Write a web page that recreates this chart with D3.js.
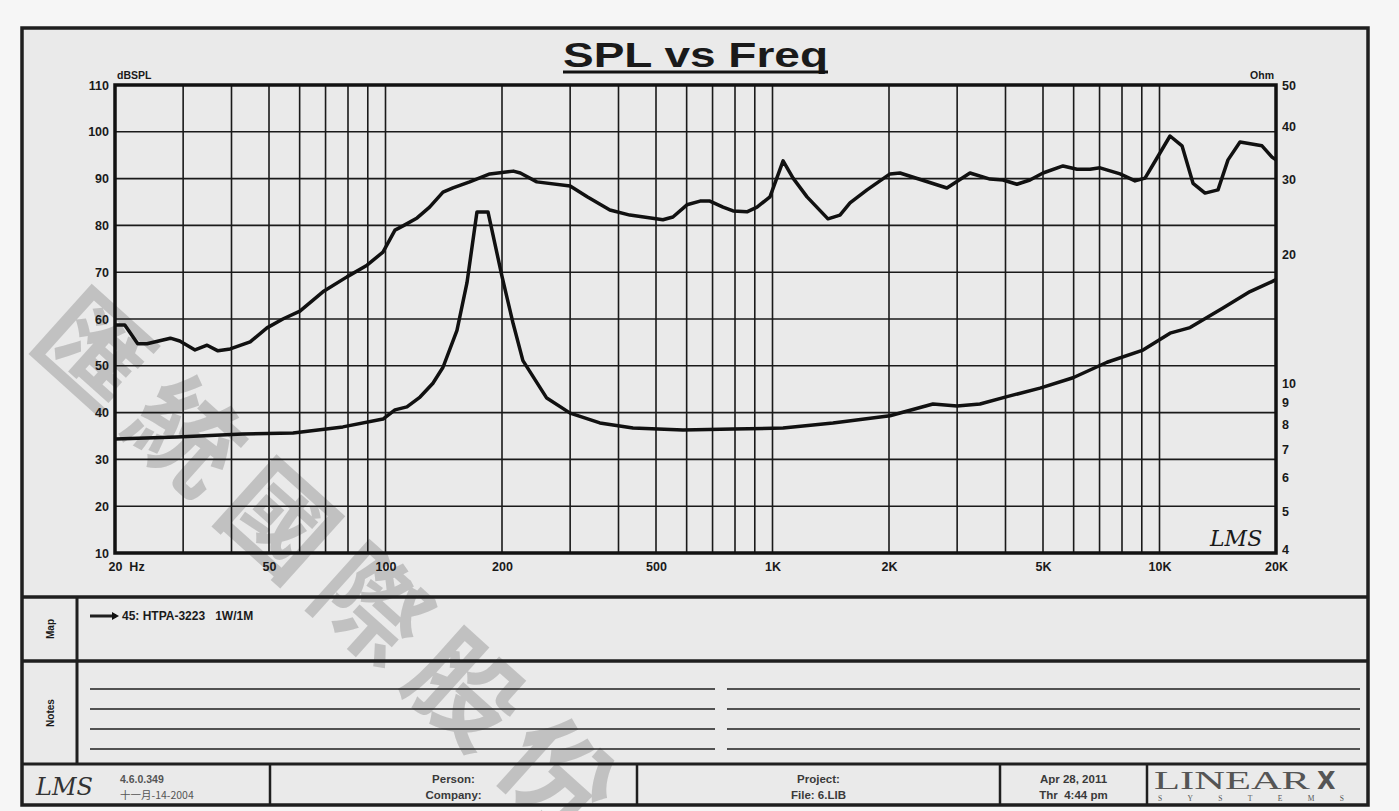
<!DOCTYPE html>
<html lang="en">
	<head>
		<meta charset="utf-8">
		<title>SPL vs Freq</title>
		<script src="https://d3js.org/d3.v7.min.js"></script>
		<style type="text/css">
			body { margin: 0; background: #f6f6f6; }
			text { font-family: "Liberation Sans", Arial, sans-serif; font-weight: bold; fill: #1a1a1a; }
		</style>
	</head>

	<body>
		<script type="text/javascript">
			// page size
			var w = 1399
			var h = 811

			// SPL curve (dB, left axis)
			var splFreq = [20, 21.2, 22.9, 24.2, 27.8, 29.4, 32.2, 34.6, 36.9, 39.7, 44.7, 49.4, 54.3, 60.1, 68.9, 79.5, 89.6, 98.5, 105.8, 111, 120.7, 130, 140.8, 149.4, 165, 186, 200, 214, 223, 246, 300, 332, 380, 428, 521, 553, 601, 650, 689, 745, 791, 859, 912, 985, 1065, 1130, 1228, 1391, 1494, 1586, 1755, 2012, 2135, 2823, 3238, 3648, 3941, 4282, 4627, 5001, 5632, 6122, 6614, 7020, 7908, 8646, 9174, 9852, 10646, 11434, 12208, 13112, 14164, 15032, 16144, 18402, 19530, 20000]
			var splDb = [58.7, 58.7, 54.7, 54.7, 55.9, 55.3, 53.4, 54.4, 53.2, 53.6, 55.1, 58.1, 60, 61.7, 65.8, 69, 71.5, 74.3, 79, 79.9, 81.6, 83.9, 87.1, 88, 89.3, 91, 91.3, 91.6, 91.2, 89.3, 88.4, 86.1, 83.3, 82.2, 81.2, 81.8, 84.4, 85.2, 85.2, 83.9, 83.1, 82.9, 83.9, 86.1, 93.8, 90.1, 86.1, 81.4, 82.2, 84.8, 87.6, 91, 91.2, 88, 91.2, 89.9, 89.7, 88.8, 89.7, 91.2, 92.7, 92, 92, 92.3, 91, 89.5, 90.1, 94.4, 99.1, 97, 89, 86.9, 87.6, 94, 97.8, 97, 94.6, 94]

			// impedance curve (Ohm, right axis)
			var zFreq = [20, 28.9, 42.8, 57.7, 77.6, 98.5, 105.8, 113.6, 122.8, 132.6, 140.8, 153, 162.4, 172.3, 184, 200, 213.7, 226.5, 261, 300, 358, 436, 587, 791, 1065, 1433, 2012, 2598, 2998, 3437, 4036, 4912, 5978, 7318, 9066, 10646, 11994, 14590, 17134, 19530, 20000]
			var zOhm = [7.40, 7.48, 7.60, 7.64, 7.90, 8.24, 8.66, 8.80, 9.28, 10.0, 10.9, 13.3, 17.2, 25.2, 25.2, 17.8, 13.8, 11.3, 9.23, 8.51, 8.07, 7.85, 7.77, 7.81, 7.85, 8.07, 8.39, 8.94, 8.84, 8.94, 9.30, 9.74, 10.3, 11.2, 11.96, 13.1, 13.5, 15.0, 16.4, 17.3, 17.5]

			// ticks
			var dbTicks = [10, 20, 30, 40, 50, 60, 70, 80, 90, 100, 110]
			var ohmTicks = [4, 5, 6, 7, 8, 9, 10, 20, 30, 40, 50]
			var freqTicks = [20, 50, 100, 200, 500, 1000, 2000, 5000, 10000, 20000]
			var freqLabels = ["20  Hz", "50", "100", "200", "500", "1K", "2K", "5K", "10K", "20K"]
			var freqGrid = [30, 40, 50, 60, 70, 80, 90, 100, 200, 300, 400, 500, 600, 700, 800, 900, 1000, 2000, 3000, 4000, 5000, 6000, 7000, 8000, 9000, 10000]
			var dbGrid = [20, 30, 40, 50, 60, 70, 80, 90, 100]

			var watermark = ["匯", "統", "國", "際", "股", "份"]
			var footerCells = [
				{ x: 22, x2: 270, l1: "", l2: "" },
				{ x: 270, x2: 637, l1: "Person:", l2: "Company:" },
				{ x: 637, x2: 1000, l1: "Project:", l2: "File: 6.LIB" },
				{ x: 1000, x2: 1147, l1: "Apr 28, 2011", l2: "Thr  4:44 pm" },
				{ x: 1147, x2: 1368, l1: "", l2: "" }
			]

			// plot box (window.top is reserved, so prefixed names)
			var pLeft = 115, pRight = 1276, pTop = 85, pBottom = 553

			var x = d3.scaleLog().domain([20, 20000]).range([pLeft, pRight])
			var yL = d3.scaleLinear().domain([10, 110]).range([pBottom, pTop])
			var yR = d3.scaleLog().domain([4, 50]).range([pBottom, pTop])

			var svg = d3.select("body")
						.append("svg")
						.attr("width", w)
						.attr("height", h)

			// paper
			svg.append("rect")
				.attr("x", 22).attr("y", 28)
				.attr("width", 1346).attr("height", 777)
				.style("fill", "#eaeaea")

			// watermark behind everything
			svg.selectAll(".wm")
				.data(watermark)
				.enter()
				.append("text")
				.attr("class", "wm")
				.attr("transform", function(d, i) { return "translate(" + (92 + i * 93) + "," + (352 + i * 85) + ") rotate(42)" })
				.attr("text-anchor", "middle")
				.attr("dy", "0.35em")
				.style("font-family", "'Noto Sans CJK TC', sans-serif")
				.style("font-weight", "bold")
				.style("font-size", "108px")
				.style("fill", "#b8b8b8")
				.style("opacity", 0.8)
				.text(function(d) { return d })

			// grid
			svg.selectAll(".vgrid")
				.data(freqGrid)
				.enter()
				.append("line")
				.attr("x1", function(d) { return x(d) })
				.attr("x2", function(d) { return x(d) })
				.attr("y1", pTop).attr("y2", pBottom)
				.style("stroke", "#1a1a1a")
				.style("stroke-width", 1.6)

			svg.selectAll(".hgrid")
				.data(dbGrid)
				.enter()
				.append("line")
				.attr("x1", pLeft).attr("x2", pRight)
				.attr("y1", function(d) { return yL(d) })
				.attr("y2", function(d) { return yL(d) })
				.style("stroke", "#1a1a1a")
				.style("stroke-width", 1.6)

			// plot frame
			svg.append("rect")
				.attr("x", pLeft).attr("y", pTop)
				.attr("width", pRight - pLeft).attr("height", pBottom - pTop)
				.style("fill", "none")
				.style("stroke", "#111")
				.style("stroke-width", 3.5)

			// axes
			var axL = svg.append("g")
				.attr("transform", "translate(" + (pLeft - 2) + ",0)")
				.call(d3.axisLeft(yL).tickValues(dbTicks).tickSize(0).tickPadding(4).tickFormat(d3.format("d")))
			var axR = svg.append("g")
				.attr("transform", "translate(" + (pRight + 2) + ",0)")
				.call(d3.axisRight(yR).tickValues(ohmTicks).tickSize(0).tickPadding(4).tickFormat(d3.format("d")))
			var axB = svg.append("g")
				.attr("transform", "translate(0," + (pBottom + 2) + ")")
				.call(d3.axisBottom(x).tickValues(freqTicks).tickSize(0).tickPadding(7)
					.tickFormat(function(d, i) { return freqLabels[i] }))

			;[axL, axR, axB].forEach(function(a) {
				a.select(".domain").remove()
				a.selectAll("text")
					.style("font-family", "'Liberation Sans', Arial, sans-serif")
					.style("font-weight", "bold")
					.style("font-size", "12.5px")
					.style("fill", "#1a1a1a")
			})
			axB.selectAll("text").filter(function(d) { return d === 20 })
				.attr("text-anchor", "start").attr("x", -7)
				.attr("xml:space", "preserve")
			axR.selectAll("text").filter(function(d) { return d === 4 }).attr("dy", "0.05em")

			// unit labels
			svg.append("text").attr("x", pLeft + 2).attr("y", pTop - 6)
				.style("font-size", "10.5px").text("dBSPL")
			svg.append("text").attr("x", pRight - 2).attr("y", pTop - 6)
				.attr("text-anchor", "end")
				.style("font-size", "10.5px").text("Ohm")

			// curves
			var splLine = d3.line()
				.x(function(d, i) { return x(splFreq[i]) })
				.y(function(d) { return yL(d) })
			var zLine = d3.line()
				.x(function(d, i) { return x(zFreq[i]) })
				.y(function(d) { return yR(d) })

			svg.append("path")
				.attr("d", splLine(splDb))
				.style("fill", "none").style("stroke", "#111")
				.style("stroke-width", 3.5).style("stroke-linejoin", "round")
			svg.append("path")
				.attr("d", zLine(zOhm))
				.style("fill", "none").style("stroke", "#111")
				.style("stroke-width", 3.5).style("stroke-linejoin", "round")

			// title
			svg.append("text")
				.attr("x", 563).attr("y", 67)
				.attr("textLength", 265).attr("lengthAdjust", "spacingAndGlyphs")
				.style("font-size", "35px")
				.text("SPL vs Freq")
			svg.append("line")
				.attr("x1", 563).attr("x2", 828)
				.attr("y1", 72).attr("y2", 72)
				.style("stroke", "#111").style("stroke-width", 3)

			// LMS mark in plot
			svg.append("text")
				.attr("x", 1210).attr("y", 546)
				.style("font-family", "'DejaVu Serif', serif")
				.style("font-style", "italic").style("font-weight", "normal")
				.style("font-size", "22px")
				.text("LMS")

			// lower panels
			function hline(y, x1, x2, sw) {
				svg.append("line").attr("x1", x1).attr("x2", x2).attr("y1", y).attr("y2", y)
					.style("stroke", "#1f1f1f").style("stroke-width", sw)
			}
			function vline(xx, y1, y2, sw) {
				svg.append("line").attr("x1", xx).attr("x2", xx).attr("y1", y1).attr("y2", y2)
					.style("stroke", "#1f1f1f").style("stroke-width", sw)
			}
			hline(597, 22, 1368, 3.5)
			hline(661, 22, 1368, 3.5)
			hline(764, 22, 1368, 3)
			vline(77, 597, 764, 3)
			;[689, 709, 729, 749].forEach(function(y) {
				hline(y, 90, 715, 1.6)
				hline(y, 727, 1360, 1.6)
			})

			svg.append("text").attr("transform", "translate(54,629) rotate(-90)")
				.attr("text-anchor", "middle").style("font-size", "10px").text("Map")
			svg.append("text").attr("transform", "translate(54,713) rotate(-90)")
				.attr("text-anchor", "middle").style("font-size", "10px").text("Notes")

			// legend entry
			hline(616, 90, 116, 3)
			svg.append("path").attr("d", "M112,612 L119,616 L112,620 Z").style("fill", "#111")
			svg.append("text").attr("x", 122).attr("y", 620)
				.style("font-size", "12px").attr("xml:space", "preserve")
				.text("45: HTPA-3223   1W/1M")

			// footer cells
			footerCells.forEach(function(c, i) {
				if (i > 0) vline(c.x, 764, 805, 2.5)
				var cx = (c.x + c.x2) / 2
				if (c.l1) svg.append("text").attr("x", cx).attr("y", 783).attr("text-anchor", "middle")
					.style("font-size", "11.5px").style("fill", "#3a3a3a").text(c.l1)
				if (c.l2) svg.append("text").attr("x", cx).attr("y", 799).attr("text-anchor", "middle")
					.style("font-size", "11.5px").style("fill", "#3a3a3a").attr("xml:space", "preserve").text(c.l2)
			})
			svg.append("text").attr("x", 36).attr("y", 795)
				.style("font-family", "'DejaVu Serif', serif").style("font-style", "italic")
				.style("font-weight", "normal").style("font-size", "24px").style("fill", "#333")
				.text("LMS")
			svg.append("text").attr("x", 120).attr("y", 783)
				.style("font-size", "10.5px").style("fill", "#555").text("4.6.0.349")
			svg.append("text").attr("x", 120).attr("y", 799)
				.style("font-size", "10.5px").style("font-weight", "normal").style("fill", "#555")
				.style("font-family", "'Noto Sans CJK TC', sans-serif").text("十一月-14-2004")

			// LINEARX logo
			svg.append("text").attr("x", 1154).attr("y", 789)
				.attr("textLength", 156).attr("lengthAdjust", "spacingAndGlyphs")
				.style("font-family", "'Liberation Serif', serif").style("font-weight", "normal")
				.style("font-size", "25px").style("fill", "#555").text("LINEAR")
			svg.append("text").attr("x", 1317).attr("y", 789)
				.style("font-family", "'DejaVu Sans', sans-serif").style("font-weight", "900")
				.style("font-size", "24px").style("fill", "#555").text("X")
			svg.append("text").attr("x", 1158).attr("y", 801)
				.attr("textLength", 186).attr("lengthAdjust", "spacing")
				.style("font-family", "'Liberation Serif', serif").style("font-weight", "normal")
				.style("font-size", "7.5px").style("fill", "#555").text("SYSTEMS")

			// outer border
			svg.append("rect")
				.attr("x", 22).attr("y", 28)
				.attr("width", 1346).attr("height", 777)
				.style("fill", "none")
				.style("stroke", "#1f1f1f")
				.style("stroke-width", 3.5)
		</script>
	</body>
</html>
